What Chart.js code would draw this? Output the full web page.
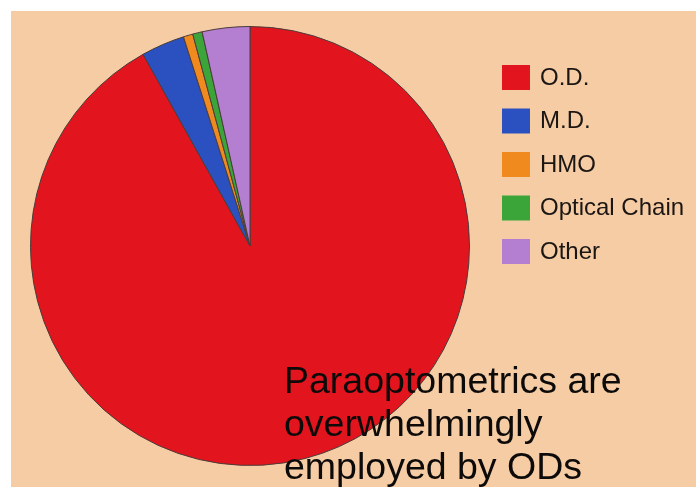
<!DOCTYPE html>
<html>
<head>
<meta charset="utf-8">
<script src="https://cdn.jsdelivr.net/npm/chart.js@4"></script>
<style>
    html, body { margin: 0; padding: 0; background: #ffffff; }
    #wrap { position: absolute; left: 11px; top: 11px; width: 685px; height: 476px; background: #f5cca3; }
</style>
</head>
<body>
<div id="wrap"><canvas id="myChart" width="685" height="476"></canvas></div>
<script>
const labels = ['O.D.', 'M.D.', 'HMO', 'Optical Chain', 'Other'];
const shares = [91.9, 3.2, 0.7, 0.7, 3.5];
const colors = ['#e2141d', '#2b50c0', '#f08a1e', '#3ca53a', '#b47fd0'];
const caption = ['Paraoptometrics are', 'overwhelmingly', 'employed by ODs'];

// legend and caption drawn on the canvas
const sidePlugin = {
    id: 'side',
    afterDraw(chart) {
        const c = chart.ctx;
        c.save();
        c.font = '24px "Liberation Sans", Arial, sans-serif';
        c.textBaseline = 'middle';
        labels.forEach((lab, i) => {
            const y = 54 + i * 43.5;
            c.fillStyle = colors[i];
            c.fillRect(491, y, 28, 25);
            c.fillStyle = '#1b1614';
            c.fillText(lab, 529, y + 13);
        });
        c.font = '37.5px "Liberation Sans", Arial, sans-serif';
        c.textBaseline = 'alphabetic';
        c.fillStyle = '#0d0a0a';
        caption.forEach((line, i) => {
            c.fillText(line, 273, 382 + i * 43);
        });
        c.restore();
    }
};

const ctx = document.getElementById('myChart').getContext('2d');
const myChart = new Chart(ctx, {
    type: 'pie',
    data: {
        labels: labels,
        datasets: [{
            data: shares,
            backgroundColor: colors,
            borderColor: '#4a3c3a',
            borderWidth: 1,
            hoverOffset: 0
        }]
    },
    options: {
        responsive: false,
        animation: false,
        layout: { padding: { left: 19, top: 15, right: 226, bottom: 21 } },
        plugins: {
            legend: { display: false },
            tooltip: { enabled: false }
        }
    },
    plugins: [sidePlugin]
});
</script>
</body>
</html>
